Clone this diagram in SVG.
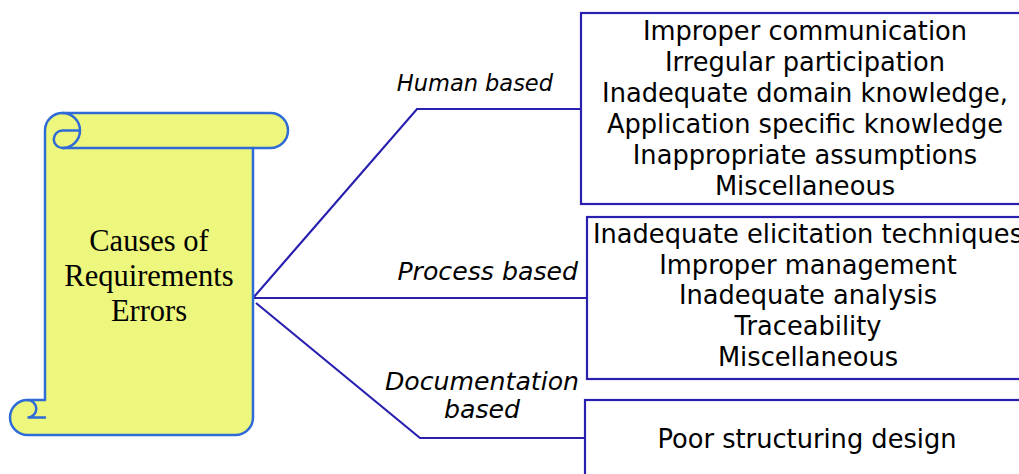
<svg xmlns="http://www.w3.org/2000/svg" width="1019" height="474" viewBox="0 0 1019 474">
<style>
.scroll{fill:#EEF77D;stroke:#2F6BD6;stroke-width:2.5;stroke-linejoin:round}
.det{fill:none;stroke:#2F6BD6;stroke-width:2.5;stroke-linecap:round}
.box{fill:#FFFFFF;stroke:#2A20B0;stroke-width:2.2}
.conn{fill:none;stroke:#2A20B0;stroke-width:2.2;stroke-linejoin:miter}
.title{font-family:"Liberation Serif","Times New Roman",serif;font-size:30.5px;fill:#000;text-anchor:middle}
.item{font-family:"DejaVu Sans",Verdana,sans-serif;font-size:25.7px;fill:#000;text-anchor:middle}
.lbl{font-family:"DejaVu Sans",Verdana,sans-serif;font-style:italic;fill:#000}
</style>
<rect width="1019" height="474" fill="#FFFFFF"/>
<g id="connectors">
<polyline class="conn" points="253,298 417,109 582,109"/>
<polyline class="conn" points="253,298 588,298"/>
<polyline class="conn" points="256,303 420,438 586,438"/>
</g>
<g id="root">
<path class="scroll" d="M45,130.5 A17.5,17.5 0 0 1 62.5,113 L270.5,113 A17.5,17.5 0 0 1 270.5,148 L253,148 L253,417.5 A17.5,17.5 0 0 1 235.5,435 L27.5,435 A17.5,17.5 0 0 1 27.5,400 L45,400 Z"/>
<path class="det" d="M62.5,113 A17.5,17.5 0 0 1 62.5,148 A8.75,8.75 0 0 1 62.5,130.5 L80,130.5"/>
<path class="det" d="M62.5,148 L253,148"/>
<path class="det" d="M27.5,400 A8.75,8.75 0 0 1 27.5,417.5 L45,417.5"/>
<text class="title" x="149" y="251">Causes of</text>
<text class="title" x="149" y="286">Requirements</text>
<text class="title" x="149" y="321">Errors</text>
</g>
<g id="label-human"><text class="lbl" x="553" y="91" font-size="22.5" text-anchor="end">Human based</text></g>
<g id="label-process"><text class="lbl" x="578" y="280" font-size="25.2" text-anchor="end">Process based</text></g>
<g id="label-doc"><text class="lbl" x="482" y="390" font-size="25.2" text-anchor="middle">Documentation</text><text class="lbl" x="482" y="418" font-size="25.2" text-anchor="middle">based</text></g>
<g id="box-human">
<rect class="box" x="581" y="13" width="460" height="191"/>
<text class="item" x="805" y="40">Improper communication</text>
<text class="item" x="805" y="71">Irregular participation</text>
<text class="item" x="805" y="102">Inadequate domain knowledge,</text>
<text class="item" x="805" y="133">Application specific knowledge</text>
<text class="item" x="805" y="164">Inappropriate assumptions</text>
<text class="item" x="805" y="195">Miscellaneous</text>
</g>
<g id="box-process">
<rect class="box" x="587" y="217" width="460" height="162"/>
<text class="item" x="808" y="243">Inadequate elicitation techniques</text>
<text class="item" x="808" y="274">Improper management</text>
<text class="item" x="808" y="304">Inadequate analysis</text>
<text class="item" x="808" y="335">Traceability</text>
<text class="item" x="808" y="366">Miscellaneous</text>
</g>
<g id="box-doc">
<rect class="box" x="585" y="400" width="460" height="100"/>
<text class="item" x="807" y="448">Poor structuring design</text>
</g>
</svg>
